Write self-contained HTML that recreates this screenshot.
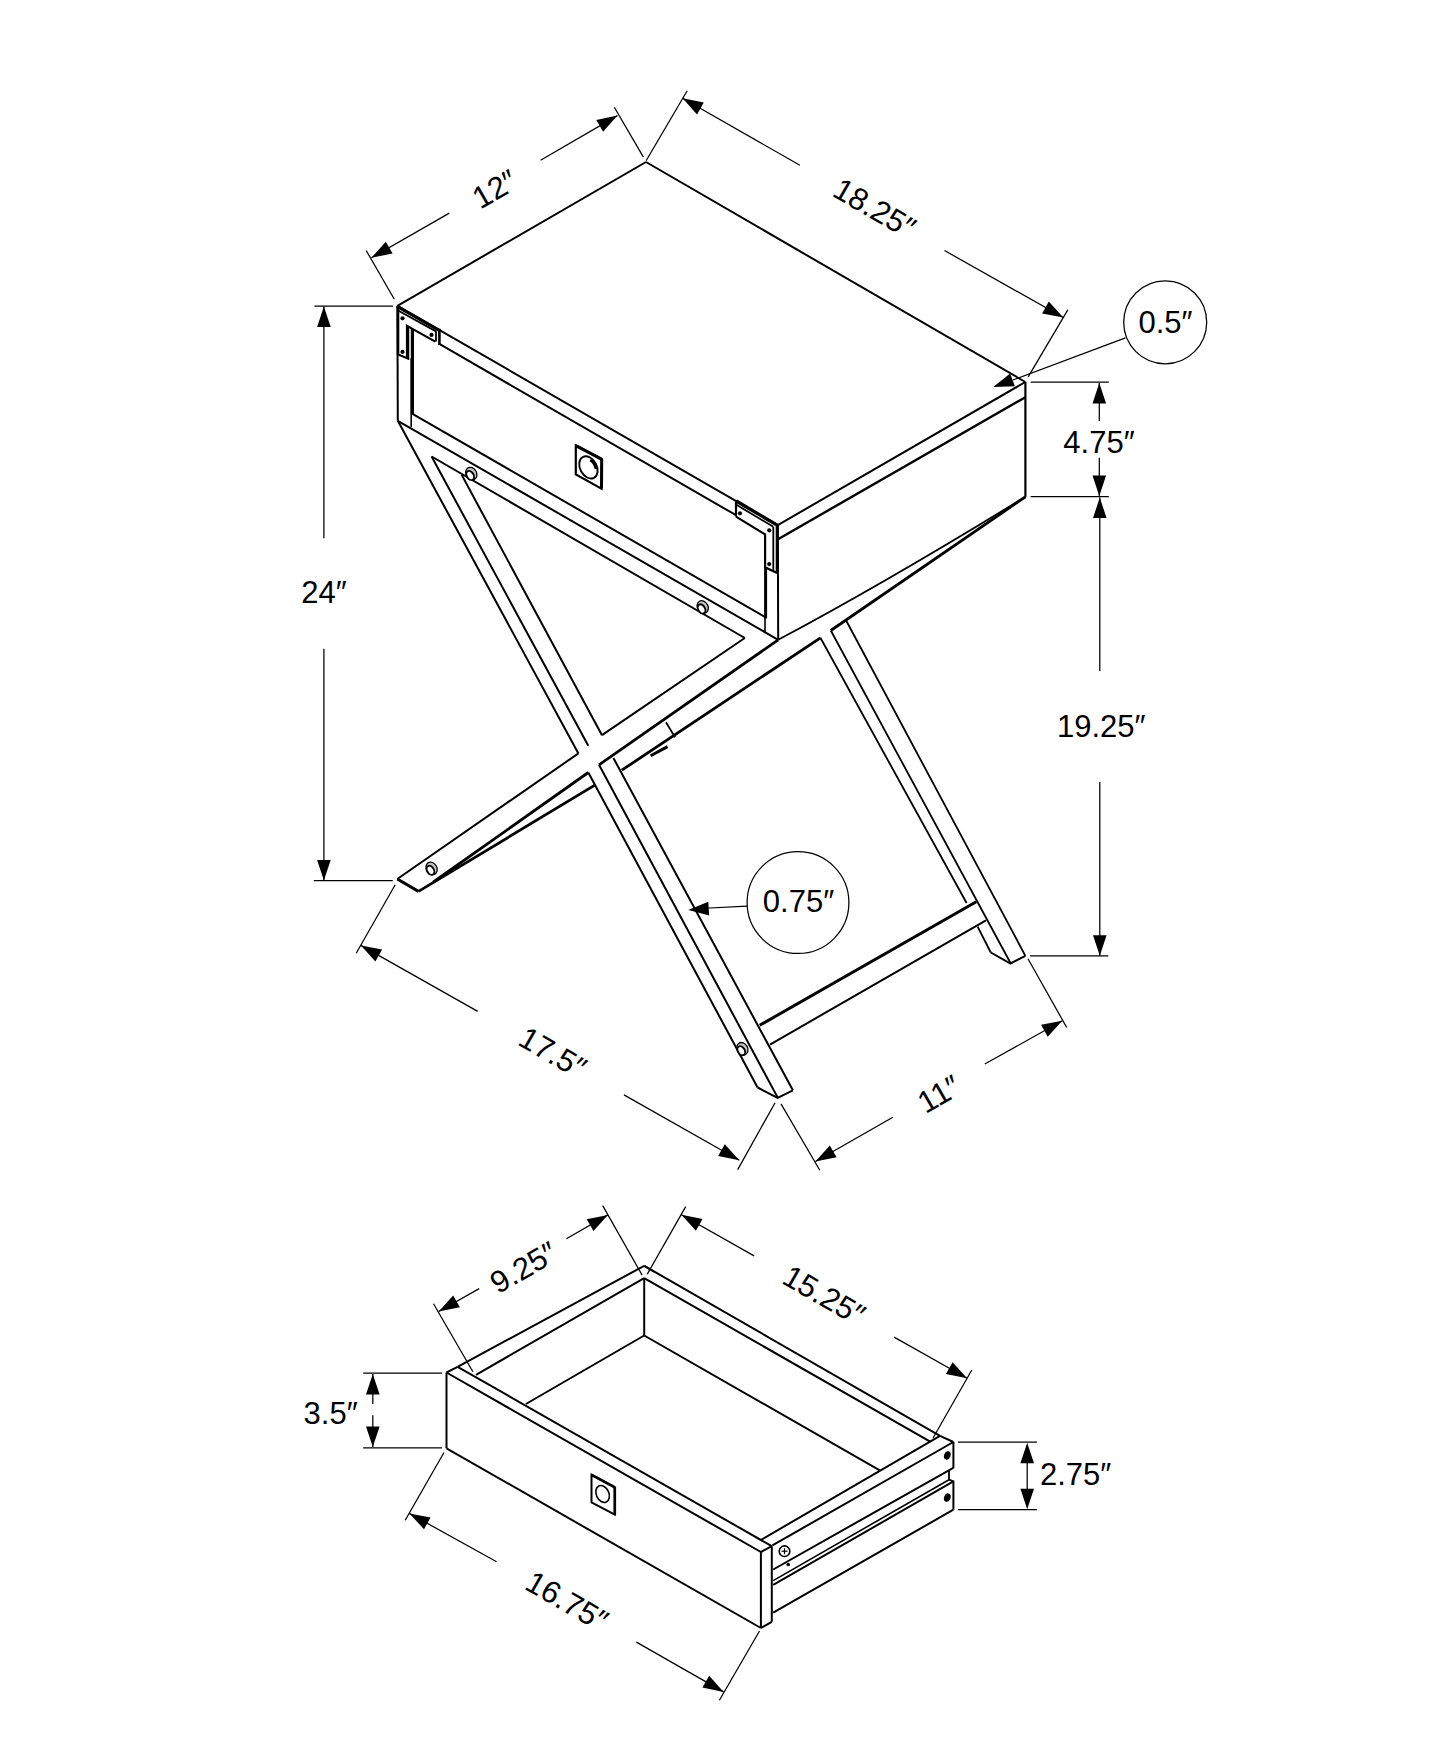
<!DOCTYPE html>
<html><head><meta charset="utf-8"><style>
html,body{margin:0;padding:0;background:#fff;}
svg{display:block;}
text{font-family:"Liberation Sans",sans-serif;fill:#000;}
</style></head><body>
<svg width="1445" height="1755" viewBox="0 0 1445 1755">
<rect width="1445" height="1755" fill="#fff"/>
<g stroke-linecap="butt">
<line x1="646.0" y1="162.0" x2="397.4" y2="305.8" stroke="#000" stroke-width="2.0"/>
<line x1="646.0" y1="162.0" x2="1025.4" y2="382.0" stroke="#000" stroke-width="2.0"/>
<line x1="397.4" y1="305.8" x2="777.8" y2="525.1" stroke="#000" stroke-width="2.0"/>
<line x1="777.8" y1="525.1" x2="1025.4" y2="382.0" stroke="#000" stroke-width="2.0"/>
<line x1="397.4" y1="305.8" x2="397.8" y2="420.8" stroke="#000" stroke-width="2.0"/>
<line x1="777.8" y1="525.1" x2="778.2" y2="639.8" stroke="#000" stroke-width="2.0"/>
<line x1="1025.4" y1="382.0" x2="1025.4" y2="496.8" stroke="#000" stroke-width="2.2"/>
<line x1="397.8" y1="420.8" x2="778.2" y2="639.8" stroke="#000" stroke-width="2.0"/>
<path d="M778.2,639.8 Q885,583 1025.4,496.8" fill="none" stroke="#000" stroke-width="1.8"/>
<line x1="778.0" y1="539.2" x2="1025.4" y2="397.2" stroke="#000" stroke-width="2.4"/>
<line x1="439.8" y1="344.2" x2="736.0" y2="515.2" stroke="#000" stroke-width="2.0"/>
<line x1="412.4" y1="329.0" x2="412.4" y2="414.0" stroke="#000" stroke-width="3.2"/>
<line x1="411.2" y1="358.0" x2="411.2" y2="427.0" stroke="#000" stroke-width="1.6"/>
<line x1="412.5" y1="413.8" x2="765.3" y2="617.2" stroke="#000" stroke-width="2.0"/>
<line x1="765.6" y1="567.0" x2="765.6" y2="618.5" stroke="#000" stroke-width="3.0"/>
<line x1="765.0" y1="618.0" x2="765.0" y2="632.0" stroke="#000" stroke-width="1.6"/>
<line x1="397.6" y1="310.2" x2="436.0" y2="331.4" stroke="#000" stroke-width="1.8"/>
<line x1="436.0" y1="331.2" x2="436.0" y2="341.6" stroke="#000" stroke-width="1.8"/>
<line x1="439.4" y1="328.8" x2="439.4" y2="345.0" stroke="#000" stroke-width="2.6"/>
<polyline points="435.3,341.6 407.0,325.8 407.0,358.2 397.6,354.2" fill="none" stroke="#000" stroke-width="2.2" stroke-linejoin="miter"/>
<line x1="408.6" y1="327.5" x2="408.6" y2="360.0" stroke="#000" stroke-width="1.3"/>
<circle cx="402.5" cy="318.3" r="2.1" fill="#000"/>
<circle cx="402.5" cy="351.9" r="2.1" fill="#000"/>
<circle cx="431.5" cy="334.9" r="2.1" fill="#000"/>
<line x1="397.6" y1="306.6" x2="439.6" y2="330.6" stroke="#000" stroke-width="3.2"/>
<line x1="398.0" y1="306.0" x2="398.0" y2="354.5" stroke="#000" stroke-width="2.6"/>
<line x1="736.0" y1="500.5" x2="736.0" y2="516.6" stroke="#000" stroke-width="2.2"/>
<line x1="736.4" y1="504.8" x2="773.3" y2="526.8" stroke="#000" stroke-width="1.8"/>
<line x1="773.3" y1="526.8" x2="773.3" y2="571.3" stroke="#000" stroke-width="1.8"/>
<polyline points="736.0,516.6 765.1,534.4 765.1,567.2 773.3,571.3 778.0,573.3" fill="none" stroke="#000" stroke-width="2.2" stroke-linejoin="miter"/>
<circle cx="740" cy="513.3" r="2.1" fill="#000"/>
<circle cx="769.2" cy="530.3" r="2.1" fill="#000"/>
<circle cx="769.2" cy="564.1" r="2.1" fill="#000"/>
<line x1="736.2" y1="501.0" x2="777.6" y2="525.4" stroke="#000" stroke-width="3.4"/>
<line x1="777.2" y1="525.5" x2="777.2" y2="573.0" stroke="#000" stroke-width="3.0"/>
<polygon points="575.8,445.4 601.9,459.1 601.5,488.6 575.8,474.4" fill="none" stroke="#000" stroke-width="2.2" stroke-linejoin="miter"/>
<line x1="575.8" y1="445.6" x2="601.9" y2="459.3" stroke="#000" stroke-width="3.2"/>
<line x1="601.7" y1="459.1" x2="601.5" y2="488.6" stroke="#000" stroke-width="3.0"/>
<ellipse cx="588.4" cy="467.4" rx="8.3" ry="11.8" fill="none" stroke="#000" stroke-width="1.9" transform="rotate(-28 588.4 467.4)"/>
<path d="M590.2,460.2 Q594.5,462.5 596.0,469.0" fill="none" stroke="#000" stroke-width="2.6"/>
<line x1="431.6" y1="456.5" x2="744.8" y2="638.0" stroke="#000" stroke-width="2.0"/>
<ellipse cx="471.3" cy="473.6" rx="5.3" ry="6.6" fill="#c4c4c4" stroke="#000" stroke-width="1.3" transform="rotate(-30 471.3 473.6)"/>
<ellipse cx="469.40000000000003" cy="474.70000000000005" rx="3.4" ry="4.9" fill="#fff" stroke="#000" stroke-width="1.9" transform="rotate(-30 471.3 473.6)"/>
<ellipse cx="702.7" cy="607.0" rx="5.3" ry="6.6" fill="#c4c4c4" stroke="#000" stroke-width="1.3" transform="rotate(-30 702.7 607.0)"/>
<ellipse cx="700.8000000000001" cy="608.1" rx="3.4" ry="4.9" fill="#fff" stroke="#000" stroke-width="1.9" transform="rotate(-30 702.7 607.0)"/>
<line x1="397.8" y1="420.8" x2="578.4" y2="753.4" stroke="#000" stroke-width="2.0"/>
<line x1="588.3" y1="772.5" x2="757.6" y2="1087.5" stroke="#000" stroke-width="2.0"/>
<line x1="431.6" y1="456.5" x2="588.3" y2="745.8" stroke="#000" stroke-width="2.0"/>
<line x1="599.0" y1="764.8" x2="777.6" y2="1097.4" stroke="#000" stroke-width="2.0"/>
<line x1="461.7" y1="474.9" x2="602.0" y2="735.2" stroke="#000" stroke-width="2.0"/>
<line x1="613.4" y1="758.0" x2="792.9" y2="1090.3" stroke="#000" stroke-width="2.0"/>
<polyline points="757.6,1087.5 777.6,1097.9 792.9,1090.3" fill="none" stroke="#000" stroke-width="2.0" stroke-linejoin="miter"/>
<ellipse cx="742.4" cy="1048.8" rx="5.3" ry="6.6" fill="#c4c4c4" stroke="#000" stroke-width="1.3" transform="rotate(-30 742.4 1048.8)"/>
<ellipse cx="740.5" cy="1049.8999999999999" rx="3.4" ry="4.9" fill="#fff" stroke="#000" stroke-width="1.9" transform="rotate(-30 742.4 1048.8)"/>
<line x1="744.8" y1="638.0" x2="602.0" y2="735.2" stroke="#000" stroke-width="2.0"/>
<line x1="578.4" y1="753.4" x2="397.3" y2="879.0" stroke="#000" stroke-width="2.0"/>
<line x1="778.2" y1="639.8" x2="599.0" y2="764.8" stroke="#000" stroke-width="2.8"/>
<line x1="588.3" y1="772.5" x2="433.4" y2="882.0" stroke="#000" stroke-width="2.8"/>
<line x1="1025.4" y1="496.8" x2="830.8" y2="630.5" stroke="#000" stroke-width="2.8"/>
<line x1="820.4" y1="637.8" x2="621.8" y2="770.2" stroke="#000" stroke-width="2.8"/>
<line x1="594.4" y1="785.4" x2="418.5" y2="891.4" stroke="#000" stroke-width="2.8"/>
<line x1="397.3" y1="879.0" x2="418.5" y2="891.4" stroke="#000" stroke-width="3.0"/>
<ellipse cx="431.6" cy="868.4" rx="5.3" ry="6.6" fill="#c4c4c4" stroke="#000" stroke-width="1.3" transform="rotate(-30 431.6 868.4)"/>
<ellipse cx="429.70000000000005" cy="869.5" rx="3.4" ry="4.9" fill="#fff" stroke="#000" stroke-width="1.9" transform="rotate(-30 431.6 868.4)"/>
<line x1="666.0" y1="722.2" x2="675.1" y2="737.4" stroke="#000" stroke-width="1.8"/>
<line x1="650.7" y1="755.7" x2="667.5" y2="746.6" stroke="#000" stroke-width="3.0"/>
<line x1="820.4" y1="637.8" x2="966.6" y2="903.0" stroke="#000" stroke-width="1.8"/>
<line x1="977.6" y1="926.6" x2="990.8" y2="952.5" stroke="#000" stroke-width="1.8"/>
<line x1="830.8" y1="630.5" x2="1010.5" y2="963.0" stroke="#000" stroke-width="1.8"/>
<line x1="846.4" y1="621.0" x2="1025.4" y2="955.8" stroke="#000" stroke-width="1.8"/>
<polyline points="990.8,952.5 1010.5,963.5 1025.4,955.8" fill="none" stroke="#000" stroke-width="2.0" stroke-linejoin="miter"/>
<line x1="759.7" y1="1025.3" x2="976.3" y2="901.7" stroke="#000" stroke-width="3.0"/>
<line x1="770.0" y1="1044.6" x2="986.0" y2="920.3" stroke="#000" stroke-width="2.0"/>
<line x1="366.2" y1="250.5" x2="394.3" y2="299.3" stroke="#000" stroke-width="1.25"/>
<line x1="614.3" y1="107.3" x2="643.4" y2="157.1" stroke="#000" stroke-width="1.25"/>
<line x1="371.4" y1="257.8" x2="449.3" y2="213.1" stroke="#000" stroke-width="1.25"/>
<polygon points="371.4,257.8 385.8,241.7 392.6,253.5" fill="#000"/>
<line x1="617.4" y1="115.6" x2="540.6" y2="160.2" stroke="#000" stroke-width="1.25"/>
<polygon points="617.4,115.6 603.1,131.8 596.3,120.0" fill="#000"/>
<text x="494.8" y="189.2" font-size="31" text-anchor="middle" dominant-baseline="central" transform="rotate(-30 494.8 189.2)">12″</text>
<line x1="687.2" y1="90.7" x2="646.1" y2="160.7" stroke="#000" stroke-width="1.25"/>
<line x1="1067.8" y1="309.9" x2="1028.2" y2="376.9" stroke="#000" stroke-width="1.25"/>
<line x1="682.6" y1="98.3" x2="799.9" y2="165.3" stroke="#000" stroke-width="1.25"/>
<polygon points="682.6,98.3 703.8,102.6 697.0,114.4" fill="#000"/>
<line x1="1063.3" y1="317.5" x2="944.5" y2="250.5" stroke="#000" stroke-width="1.25"/>
<polygon points="1063.3,317.5 1042.1,313.4 1048.8,301.5" fill="#000"/>
<text x="874.5" y="208.4" font-size="31" text-anchor="middle" dominant-baseline="central" transform="rotate(30 874.5 208.4)">18.25″</text>
<circle cx="1165.2" cy="322.3" r="41.5" fill="none" stroke="#000" stroke-width="1.25"/>
<line x1="1125.4" y1="337.8" x2="1013.0" y2="380.0" stroke="#000" stroke-width="1.25"/>
<polygon points="993.3,387.1 1010.1,373.6 1014.9,386.3" fill="#000"/>
<text x="1165.5" y="322.0" font-size="31" text-anchor="middle" dominant-baseline="central">0.5″</text>
<line x1="1030.7" y1="382.1" x2="1108.8" y2="382.1" stroke="#000" stroke-width="1.25"/>
<line x1="1030.7" y1="496.7" x2="1108.8" y2="496.7" stroke="#000" stroke-width="1.25"/>
<line x1="1099.3" y1="382.9" x2="1099.3" y2="421.1" stroke="#000" stroke-width="1.25"/>
<polygon points="1099.3,382.9 1106.1,403.4 1092.5,403.4" fill="#000"/>
<line x1="1099.3" y1="495.9" x2="1099.3" y2="457.7" stroke="#000" stroke-width="1.25"/>
<polygon points="1099.3,495.9 1092.5,475.4 1106.1,475.4" fill="#000"/>
<text x="1099.0" y="442.0" font-size="31" text-anchor="middle" dominant-baseline="central">4.75″</text>
<line x1="1030.0" y1="955.8" x2="1108.3" y2="955.8" stroke="#000" stroke-width="1.25"/>
<line x1="1099.8" y1="497.6" x2="1099.8" y2="670.9" stroke="#000" stroke-width="1.25"/>
<polygon points="1099.8,497.6 1106.6,518.1 1093.0,518.1" fill="#000"/>
<line x1="1099.8" y1="955.8" x2="1099.8" y2="782.0" stroke="#000" stroke-width="1.25"/>
<polygon points="1099.8,955.8 1093.0,935.3 1106.6,935.3" fill="#000"/>
<text x="1101.2" y="726.4" font-size="31" text-anchor="middle" dominant-baseline="central">19.25″</text>
<line x1="314.4" y1="306.2" x2="392.9" y2="306.2" stroke="#000" stroke-width="1.25"/>
<line x1="313.8" y1="880.5" x2="392.8" y2="880.5" stroke="#000" stroke-width="1.25"/>
<line x1="323.9" y1="306.5" x2="323.9" y2="538.2" stroke="#000" stroke-width="1.25"/>
<polygon points="323.9,306.5 330.7,327.0 317.1,327.0" fill="#000"/>
<line x1="323.9" y1="880.5" x2="323.9" y2="648.7" stroke="#000" stroke-width="1.25"/>
<polygon points="323.9,880.5 317.1,860.0 330.7,860.0" fill="#000"/>
<text x="324.1" y="592.5" font-size="31" text-anchor="middle" dominant-baseline="central">24″</text>
<line x1="395.2" y1="884.7" x2="356.2" y2="953.2" stroke="#000" stroke-width="1.25"/>
<line x1="775.1" y1="1102.7" x2="737.7" y2="1169.6" stroke="#000" stroke-width="1.25"/>
<line x1="360.9" y1="945.4" x2="477.7" y2="1011.4" stroke="#000" stroke-width="1.25"/>
<polygon points="360.9,945.4 382.1,949.6 375.4,961.4" fill="#000"/>
<line x1="739.3" y1="1160.3" x2="624.0" y2="1094.9" stroke="#000" stroke-width="1.25"/>
<polygon points="739.3,1160.3 718.1,1156.1 724.8,1144.3" fill="#000"/>
<text x="552.6" y="1052.8" font-size="31" text-anchor="middle" dominant-baseline="central" transform="rotate(30 552.6 1052.8)">17.5″</text>
<line x1="781.0" y1="1103.9" x2="819.8" y2="1170.3" stroke="#000" stroke-width="1.25"/>
<line x1="1028.0" y1="958.8" x2="1066.7" y2="1027.5" stroke="#000" stroke-width="1.25"/>
<line x1="815.4" y1="1161.5" x2="892.9" y2="1117.2" stroke="#000" stroke-width="1.25"/>
<polygon points="815.4,1161.5 829.8,1145.4 836.6,1157.2" fill="#000"/>
<line x1="1062.3" y1="1020.8" x2="984.8" y2="1064.0" stroke="#000" stroke-width="1.25"/>
<polygon points="1062.3,1020.8 1047.7,1036.7 1041.1,1024.8" fill="#000"/>
<text x="939.0" y="1094.3" font-size="31" text-anchor="middle" dominant-baseline="central" transform="rotate(-30 939.0 1094.3)">11″</text>
<circle cx="798" cy="902.6" r="50.9" fill="none" stroke="#000" stroke-width="1.25"/>
<line x1="747.1" y1="906.2" x2="700.0" y2="908.5" stroke="#000" stroke-width="1.25"/>
<polygon points="688.3,909.9 708.3,901.8 709.2,915.4" fill="#000"/>
<text x="798.5" y="901.5" font-size="31" text-anchor="middle" dominant-baseline="central">0.75″</text>
<line x1="446.5" y1="1372.5" x2="457.6" y2="1366.8" stroke="#000" stroke-width="2.0"/>
<line x1="446.5" y1="1372.5" x2="760.9" y2="1552.0" stroke="#000" stroke-width="2.0"/>
<line x1="457.6" y1="1366.8" x2="771.8" y2="1546.2" stroke="#000" stroke-width="2.0"/>
<line x1="446.5" y1="1372.5" x2="446.5" y2="1448.3" stroke="#000" stroke-width="2.0"/>
<line x1="446.5" y1="1448.3" x2="760.9" y2="1628.0" stroke="#000" stroke-width="2.0"/>
<line x1="760.9" y1="1552.0" x2="760.9" y2="1628.0" stroke="#000" stroke-width="2.0"/>
<line x1="771.8" y1="1546.2" x2="771.8" y2="1621.8" stroke="#000" stroke-width="2.0"/>
<line x1="760.9" y1="1552.0" x2="771.8" y2="1546.2" stroke="#000" stroke-width="2.0"/>
<line x1="760.9" y1="1628.0" x2="771.8" y2="1621.8" stroke="#000" stroke-width="2.0"/>
<line x1="457.6" y1="1366.8" x2="644.2" y2="1265.8" stroke="#000" stroke-width="2.0"/>
<line x1="476.0" y1="1374.8" x2="644.2" y2="1278.2" stroke="#000" stroke-width="2.0"/>
<line x1="644.2" y1="1265.8" x2="940.0" y2="1435.9" stroke="#000" stroke-width="2.0"/>
<line x1="644.2" y1="1278.2" x2="930.6" y2="1441.8" stroke="#000" stroke-width="2.0"/>
<line x1="644.2" y1="1265.8" x2="654.6" y2="1272.0" stroke="#000" stroke-width="1.8"/>
<line x1="644.2" y1="1278.2" x2="644.2" y2="1335.5" stroke="#000" stroke-width="2.0"/>
<line x1="644.2" y1="1335.5" x2="525.9" y2="1404.0" stroke="#000" stroke-width="2.0"/>
<line x1="644.2" y1="1335.5" x2="879.8" y2="1470.3" stroke="#000" stroke-width="2.0"/>
<line x1="760.8" y1="1540.0" x2="940.0" y2="1435.9" stroke="#000" stroke-width="2.0"/>
<line x1="772.4" y1="1545.4" x2="953.4" y2="1442.0" stroke="#000" stroke-width="2.0"/>
<line x1="940.0" y1="1435.9" x2="953.4" y2="1442.0" stroke="#000" stroke-width="2.0"/>
<line x1="953.4" y1="1442.0" x2="953.4" y2="1468.2" stroke="#000" stroke-width="2.0"/>
<line x1="773.2" y1="1569.5" x2="953.3" y2="1467.8" stroke="#000" stroke-width="2.0"/>
<line x1="949.0" y1="1470.9" x2="949.0" y2="1479.7" stroke="#000" stroke-width="1.8"/>
<line x1="949.0" y1="1479.7" x2="953.4" y2="1481.4" stroke="#000" stroke-width="1.8"/>
<line x1="773.2" y1="1580.6" x2="949.0" y2="1479.7" stroke="#000" stroke-width="1.6"/>
<line x1="773.2" y1="1584.8" x2="953.4" y2="1481.4" stroke="#000" stroke-width="2.0"/>
<line x1="773.2" y1="1612.7" x2="953.4" y2="1509.7" stroke="#000" stroke-width="2.0"/>
<line x1="953.4" y1="1480.6" x2="953.4" y2="1509.7" stroke="#000" stroke-width="2.0"/>
<ellipse cx="947.3" cy="1455.4" rx="3.2" ry="4.3" fill="#000" transform="rotate(20 947.3 1455.4)"/>
<ellipse cx="947.3" cy="1497.6" rx="3.2" ry="4.3" fill="#000" transform="rotate(20 947.3 1497.6)"/>
<circle cx="784.5" cy="1551.2" r="5.3" fill="none" stroke="#000" stroke-width="1.6"/>
<line x1="781.5" y1="1551.2" x2="787.5" y2="1551.2" stroke="#000" stroke-width="1.2"/>
<line x1="784.5" y1="1548.2" x2="784.5" y2="1554.2" stroke="#000" stroke-width="1.2"/>
<circle cx="788.2" cy="1564.5" r="1.8" fill="#000"/>
<polygon points="591.5,1474.6 614.8,1487.1 614.8,1514.7 591.5,1502.3" fill="none" stroke="#000" stroke-width="2.0" stroke-linejoin="miter"/>
<line x1="591.5" y1="1474.8" x2="614.8" y2="1487.3" stroke="#000" stroke-width="2.6"/>
<line x1="614.8" y1="1487.1" x2="614.8" y2="1514.7" stroke="#000" stroke-width="2.6"/>
<ellipse cx="602.6" cy="1494" rx="6.3" ry="8.8" fill="none" stroke="#000" stroke-width="1.6" transform="rotate(-25 602.6 1494)"/>
<line x1="363.2" y1="1373.1" x2="442.0" y2="1373.1" stroke="#000" stroke-width="1.25"/>
<line x1="363.2" y1="1447.9" x2="442.0" y2="1447.9" stroke="#000" stroke-width="1.25"/>
<line x1="372.8" y1="1373.9" x2="372.8" y2="1404.1" stroke="#000" stroke-width="1.25"/>
<polygon points="372.8,1373.9 379.6,1394.4 366.0,1394.4" fill="#000"/>
<line x1="372.8" y1="1447.1" x2="372.8" y2="1415.3" stroke="#000" stroke-width="1.25"/>
<polygon points="372.8,1447.1 366.0,1426.6 379.6,1426.6" fill="#000"/>
<text x="330.6" y="1413.0" font-size="31" text-anchor="middle" dominant-baseline="central">3.5″</text>
<line x1="433.5" y1="1303.8" x2="472.9" y2="1371.7" stroke="#000" stroke-width="1.25"/>
<line x1="602.7" y1="1205.6" x2="642.1" y2="1275.1" stroke="#000" stroke-width="1.25"/>
<line x1="438.7" y1="1311.5" x2="479.2" y2="1288.6" stroke="#000" stroke-width="1.25"/>
<polygon points="438.7,1311.5 453.2,1295.5 459.9,1307.3" fill="#000"/>
<line x1="607.9" y1="1214.9" x2="566.4" y2="1238.8" stroke="#000" stroke-width="1.25"/>
<polygon points="607.9,1214.9 593.5,1231.0 586.7,1219.2" fill="#000"/>
<text x="523.7" y="1267.7" font-size="31" text-anchor="middle" dominant-baseline="central" transform="rotate(-30 523.7 1267.7)">9.25″</text>
<line x1="685.7" y1="1206.6" x2="647.3" y2="1274.1" stroke="#000" stroke-width="1.25"/>
<line x1="971.8" y1="1370.0" x2="932.9" y2="1438.2" stroke="#000" stroke-width="1.25"/>
<line x1="681.4" y1="1214.8" x2="754.1" y2="1255.9" stroke="#000" stroke-width="1.25"/>
<polygon points="681.4,1214.8 702.6,1219.0 695.9,1230.8" fill="#000"/>
<line x1="967.1" y1="1378.2" x2="894.1" y2="1337.1" stroke="#000" stroke-width="1.25"/>
<polygon points="967.1,1378.2 945.9,1374.1 952.6,1362.2" fill="#000"/>
<text x="824.0" y="1295.5" font-size="31" text-anchor="middle" dominant-baseline="central" transform="rotate(30 824.0 1295.5)">15.25″</text>
<line x1="958.0" y1="1442.1" x2="1036.9" y2="1442.1" stroke="#000" stroke-width="1.25"/>
<line x1="958.0" y1="1509.7" x2="1036.9" y2="1509.7" stroke="#000" stroke-width="1.25"/>
<line x1="1027.2" y1="1462.0" x2="1027.2" y2="1489.0" stroke="#000" stroke-width="1.25"/>
<polygon points="1027.2,1442.8 1034.0,1463.3 1020.4,1463.3" fill="#000"/>
<polygon points="1027.2,1509.3 1020.4,1488.8 1034.0,1488.8" fill="#000"/>
<text x="1075.6" y="1474.7" font-size="31" text-anchor="middle" dominant-baseline="central">2.75″</text>
<line x1="444.0" y1="1452.5" x2="405.2" y2="1520.3" stroke="#000" stroke-width="1.25"/>
<line x1="759.5" y1="1631.0" x2="719.4" y2="1700.2" stroke="#000" stroke-width="1.25"/>
<line x1="409.4" y1="1513.4" x2="496.6" y2="1561.8" stroke="#000" stroke-width="1.25"/>
<polygon points="409.4,1513.4 430.6,1517.4 424.0,1529.3" fill="#000"/>
<line x1="723.6" y1="1691.9" x2="636.4" y2="1642.1" stroke="#000" stroke-width="1.25"/>
<polygon points="723.6,1691.9 702.4,1687.6 709.2,1675.8" fill="#000"/>
<text x="566.9" y="1601.2" font-size="31" text-anchor="middle" dominant-baseline="central" transform="rotate(30 566.9 1601.2)">16.75″</text>
</g>
</svg>
</body></html>
